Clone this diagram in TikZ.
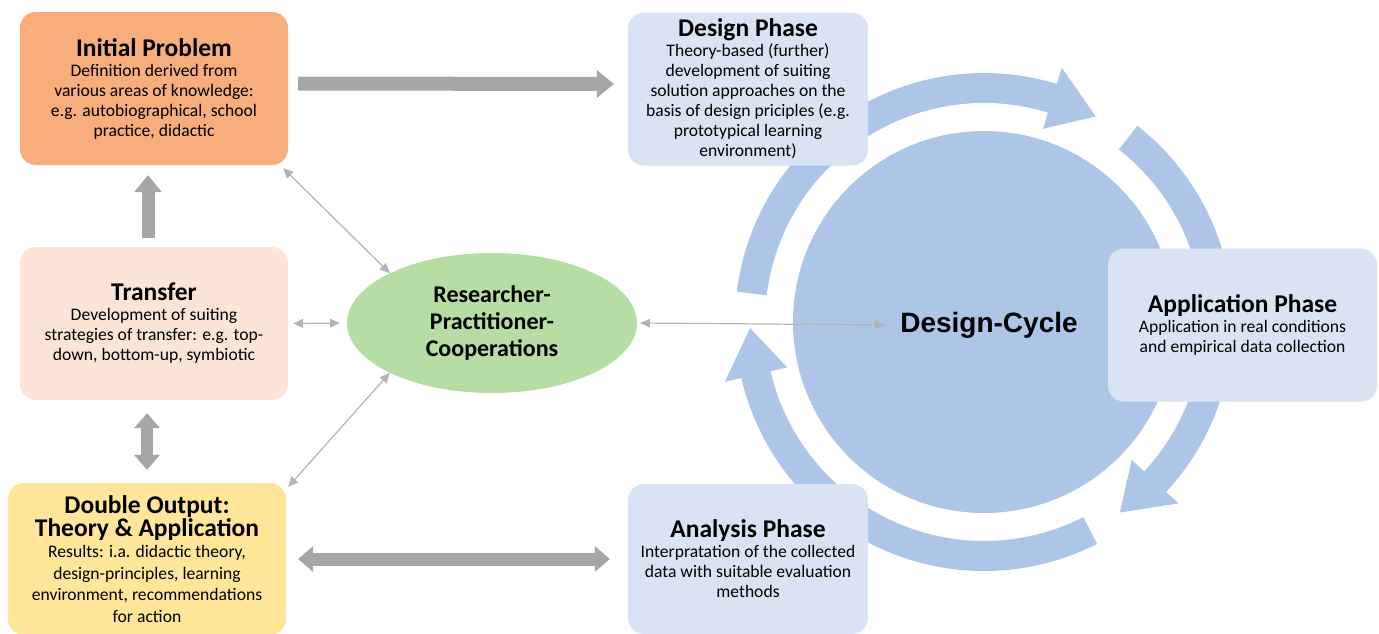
\documentclass[tikz,border=0pt]{standalone}
\usepackage{fontspec}
\setmainfont{Carlito}
\newfontfamily\cyclefont{Liberation Sans}
\usepackage{tikz}
\usetikzlibrary{shapes.geometric, arrows.meta}

\definecolor{problemOrange}{HTML}{F8AD7C}
\definecolor{transferPeach}{HTML}{FCE4D6}
\definecolor{outputYellow}{HTML}{FFE699}
\definecolor{phaseBlue}{HTML}{DAE3F3}
\definecolor{cycleBlue}{HTML}{ADC6E8}
\definecolor{coopGreen}{HTML}{B5DDA4}
\definecolor{arrowGray}{HTML}{A6A6A6}
\definecolor{lineGray}{HTML}{B4B4B4}

\newcommand{\boxtitle}[1]{{\fontsize{25.5}{28}\selectfont\bfseries #1}}

\begin{document}
\begin{tikzpicture}[x=1pt, y=-1pt]
	\tikzstyle{phase} = [rectangle, rounded corners=16pt, minimum width=240pt, minimum height=153pt, align=center, fill=phaseBlue, font=\fontsize{17.6}{20}\selectfont]
	\tikzstyle{sidebox} = [phase, minimum width=268pt]
	\tikzstyle{blockArrow} = [draw=arrowGray, line width=14pt, -{Triangle[width=28pt, length=17pt, line width=0pt]}]
	\tikzstyle{blockBoth} = [blockArrow, {Triangle[width=26pt, length=15pt, line width=0pt]}-{Triangle[width=26pt, length=15pt, line width=0pt]}]
	\tikzstyle{link} = [draw=lineGray, line width=1.2pt, {Triangle[length=10pt, width=9pt]}-{Triangle[length=10pt, width=9pt]}]
	\useasboundingbox (0,0) rectangle (1379,633);
	% the design cycle
	\foreach \tail/\base/\tip in {173/73/61.5, 52/-43/-54.5, -63/-167/-178.5}
		\fill [cycleBlue, shift={(984,322)}] (\tail:249pt) arc [start angle=\tail, end angle=\base, radius=249pt] -- (\base:266pt) -- (\tip:234pt) -- (\base:202pt) -- (\base:219pt) arc [start angle=\base, end angle=\tail, radius=219pt] -- cycle;
	\node (designCycle) [circle, fill=cycleBlue, minimum size=382pt, inner sep=0pt] at (984,322) {};
	\node (cycleLabel) [font=\cyclefont\bfseries\fontsize{28}{32}\selectfont] at (989,325) {Design-Cycle};
	% boxes
	\node (initialProblem) [sidebox, fill=problemOrange] at (154,88.5) {\boxtitle{Initial Problem}\\Definition derived from\\various areas of knowledge:\\e.g. autobiographical, school\\practice, didactic};
	\node (transfer) [sidebox, fill=transferPeach] at (154,323.5) {\boxtitle{Transfer}\\Development of suiting\\strategies of transfer: e.g. top-\\down, bottom-up, symbiotic};
	\node (doubleOutput) [sidebox, fill=outputYellow, minimum width=278pt, minimum height=152pt, font=\fontsize{17.6}{21.5}\selectfont] at (147,559) {\boxtitle{Double Output:}\\\boxtitle{Theory \& Application}\\Results: i.a. didactic theory,\\design-principles, learning\\environment, recommendations\\for action};
	\node (designPhase) [phase] at (748,89) {\boxtitle{Design Phase}\\Theory-based (further)\\development of suiting\\solution approaches on the\\basis of design priciples (e.g.\\prototypical learning\\environment)};
	\node (applicationPhase) [phase, minimum width=269pt] at (1242.5,325) {\boxtitle{Application Phase}\\Application in real conditions\\and empirical data collection};
	\node (analysisPhase) [phase, minimum height=150pt] at (748,559) {\boxtitle{Analysis Phase}\\Interpratation of the collected\\data with suitable evaluation\\methods};
	\node (cooperation) [ellipse, fill=coopGreen, minimum width=290pt, minimum height=140pt, align=center, font=\bfseries\fontsize{24}{27}\selectfont] at (492,323) {Researcher-\\Practitioner-\\Cooperations};
	% connections
	\draw [blockArrow, shorten <=10pt, shorten >=14pt] ([yshift=5pt]initialProblem.east) -- ([yshift=5pt]designPhase.west);
	\draw [blockArrow, line width=13pt, shorten <=9pt, shorten >=10pt] ([xshift=-6pt]transfer.north) -- ([xshift=-6pt]initialProblem.south);
	\draw [blockBoth, line width=12pt, shorten <=13pt, shorten >=13pt] (transfer.south -| doubleOutput.north) -- (doubleOutput.north);
	\draw [blockBoth, line width=13pt, shorten <=12pt, shorten >=18pt] (doubleOutput.east) -- (analysisPhase.west);
	\draw [link] ([xshift=-5pt, yshift=-3pt]initialProblem.south east) -- (cooperation.154);
	\draw [link, shorten <=5pt, shorten >=7pt] (transfer.east) -- (cooperation.west);
	\draw [link] ([xshift=2pt, yshift=-4pt]doubleOutput.north east) -- (cooperation.206);
	\draw [link, shorten <=3pt, shorten >=12pt] (cooperation.east) -- (cycleLabel.west);
\end{tikzpicture}
\end{document}
